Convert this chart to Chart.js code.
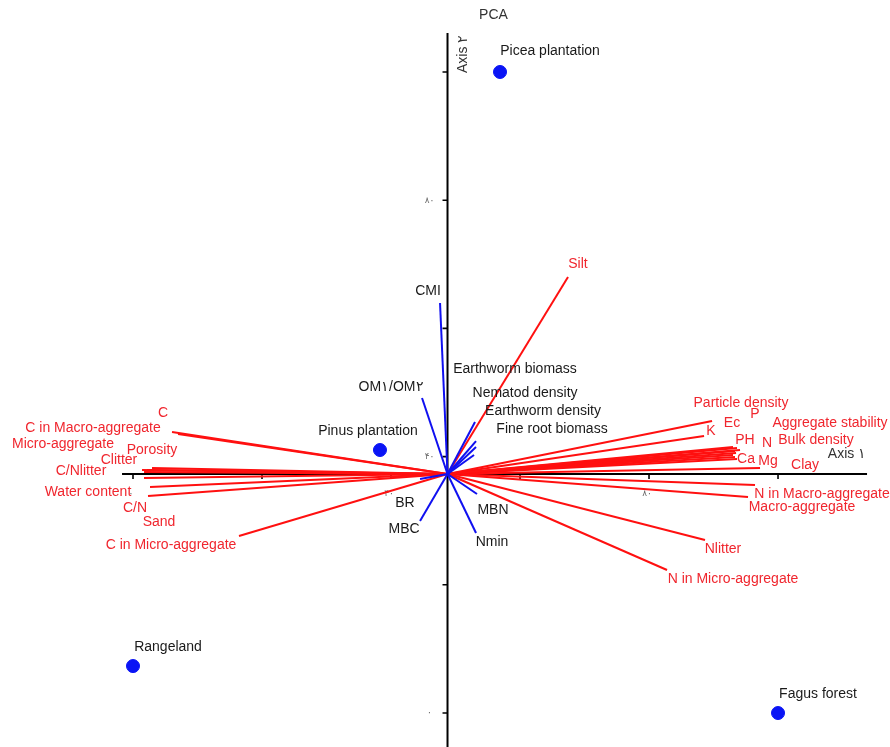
<!DOCTYPE html>
<html>
<head>
<meta charset="utf-8">
<script src="https://cdn.jsdelivr.net/npm/chart.js@4.4.1/dist/chart.umd.min.js"></script>
<style>
  html, body { margin: 0; padding: 0; background: #ffffff; }
  #wrap { width: 890px; height: 747px; }
  canvas { display: block; }
</style>
</head>
<body>
<div id="wrap"><canvas id="c" width="890" height="747"></canvas></div>
<script>
// ---- Data (PCA scores, 0-100 scale) ----
const origin = [48.76, 37.29];

// Environmental variables (red vectors)
const redNames = ["Silt", "C", "C in Macro-aggregate", "Micro-aggregate", "Porosity", "Clitter", "C/Nlitter",
  "Water content", "C/N", "Sand", "C in Micro-aggregate", "Particle density", "Ec", "P", "Aggregate stability",
  "K", "PH", "N", "Bulk density", "Ca", "Mg", "Clay", "N in Macro-aggregate", "Macro-aggregate", "Nlitter",
  "N in Micro-aggregate"];
const redX = [67.44, 6.05, 6.98, 2.95, 1.40, 2.17, 1.71, 1.71, 2.64, 2.33, 16.43, 89.77, 93.02, 93.64, 94.11,
  88.53, 93.33, 93.49, 93.02, 93.33, 93.64, 97.21, 96.43, 95.35, 88.68, 82.79];
const redY = [68.02, 43.84, 43.53, 38.22, 37.91, 37.91, 37.60, 36.66, 35.26, 33.85, 27.61, 45.55, 41.50, 41.34, 41.03,
  43.21, 40.87, 40.56, 40.25, 39.94, 39.63, 38.22, 35.57, 33.70, 26.99, 22.31];
const redLabelX = [68.99, 4.65, -6.20, -10.85, 2.95, -2.17, -8.06, -6.98, 0.31, 4.03, 5.89, 94.26, 92.87, 96.43, 108.06,
  89.61, 94.88, 98.29, 105.89, 95.04, 98.45, 104.19, 106.82, 103.72, 91.47, 93.02];
const redLabelY = [70.05, 46.80, 44.46, 41.97, 41.03, 39.47, 37.75, 34.48, 31.98, 29.80, 26.21, 48.36, 45.24, 46.65, 45.24,
  43.99, 42.59, 42.12, 42.59, 39.63, 39.31, 38.69, 34.17, 32.14, 25.59, 20.90];

// Biological variables (blue vectors)
const blueNames = ["CMI", "OM\u06F1/OM\u06F2", "Earthworm biomass", "Nematod density", "Earthworm density",
  "Fine root biomass", "BR", "MBC", "MBN", "Nmin"];
const blueX = [47.60, 44.81, 53.02, 53.18, 53.18, 52.87, 44.50, 44.50, 53.33, 53.18];
const blueY = [63.96, 49.14, 45.40, 42.43, 41.50, 40.25, 36.51, 29.95, 34.17, 28.08];
const blueLabelX = [45.74, 40.00, 59.22, 60.78, 63.57, 64.96, 42.17, 42.02, 55.81, 55.66];
const blueLabelY = [65.83, 50.86, 53.67, 49.92, 47.11, 44.31, 32.76, 28.71, 31.67, 26.68];

// Sites (blue points)
const siteNames = ["Picea plantation", "Pinus plantation", "Rangeland", "Fagus forest"];
const siteX = [56.90, 38.29, 0.00, 100.00];
const siteY = [100.00, 41.03, 7.33, 0.00];
const siteLabelX = [64.65, 36.43, 5.43, 106.20];
const siteLabelY = [103.28, 43.99, 10.30, 2.96];

// Axis ticks
const tickValues = [0, 20, 40, 60, 80, 100];
const tickLabelValues = [0, 40, 80];
const tickLabelTexts = ["\u06F0", "\u06F4\u06F0", "\u06F8\u06F0"];

const RED = "#ff1010";
const RED_TXT = "#f0262e";
const BLUE = "#1010f0";
const FONT = "'Liberation Sans', Arial, sans-serif";

// ---- Build datasets ----
const datasets = [];
redNames.forEach((n, i) => {
  datasets.push({
    type: "line", label: n,
    data: [{x: origin[0], y: origin[1]}, {x: redX[i], y: redY[i]}],
    borderColor: RED, borderWidth: 2, pointRadius: 0, fill: false, order: 3
  });
});
blueNames.forEach((n, i) => {
  datasets.push({
    type: "line", label: n,
    data: [{x: origin[0], y: origin[1]}, {x: blueX[i], y: blueY[i]}],
    borderColor: BLUE, borderWidth: 2, pointRadius: 0, fill: false, order: 2
  });
});
datasets.push({
  type: "scatter", label: "sites",
  data: siteX.map((x, i) => ({x: x, y: siteY[i]})),
  backgroundColor: "#0a14f5", borderColor: "#0a14f5", pointRadius: 6.5, order: 1
});

const axesPlugin = {
  id: "axesPlugin",
  beforeDatasetsDraw(chart) {
    const ctx = chart.ctx, xs = chart.scales.x, ys = chart.scales.y;
    const ox = xs.getPixelForValue(origin[0]), oy = ys.getPixelForValue(origin[1]);
    ctx.save();
    ctx.strokeStyle = "#000"; ctx.lineWidth = 2;
    ctx.beginPath();
    ctx.moveTo(xs.getPixelForValue(-1.7), oy); ctx.lineTo(xs.getPixelForValue(113.8), oy);
    ctx.moveTo(ox, ys.getPixelForValue(106.1)); ctx.lineTo(ox, ys.getPixelForValue(-6));
    ctx.stroke();
    ctx.lineWidth = 1.6;
    ctx.beginPath();
    tickValues.forEach(v => {
      const px = xs.getPixelForValue(v);
      ctx.moveTo(px, oy); ctx.lineTo(px, oy + 5);
      const py = ys.getPixelForValue(v);
      ctx.moveTo(ox, py); ctx.lineTo(ox - 5, py);
    });
    ctx.stroke();
    // tick labels
    ctx.fillStyle = "#666"; ctx.font = "9px 'DejaVu Sans', sans-serif";
    ctx.textAlign = "center"; ctx.textBaseline = "middle";
    tickLabelValues.forEach((v, i) => {
      ctx.fillText(tickLabelTexts[i], xs.getPixelForValue(v) - 2, oy + 20);
      ctx.fillText(tickLabelTexts[i], ox - 18, ys.getPixelForValue(v));
    });
    ctx.restore();
  },
  afterDatasetsDraw(chart) {
    const ctx = chart.ctx, xs = chart.scales.x, ys = chart.scales.y;
    const ox = xs.getPixelForValue(origin[0]), oy = ys.getPixelForValue(origin[1]);
    ctx.save();
    ctx.textAlign = "center"; ctx.textBaseline = "middle";
    ctx.font = "14px " + FONT;
    ctx.fillStyle = RED_TXT;
    redNames.forEach((n, i) => ctx.fillText(n, xs.getPixelForValue(redLabelX[i]), ys.getPixelForValue(redLabelY[i])));
    ctx.fillStyle = "#1a1a1a";
    blueNames.forEach((n, i) => ctx.fillText(n, xs.getPixelForValue(blueLabelX[i]), ys.getPixelForValue(blueLabelY[i])));
    siteNames.forEach((n, i) => ctx.fillText(n, xs.getPixelForValue(siteLabelX[i]), ys.getPixelForValue(siteLabelY[i])));
    // title
    ctx.fillStyle = "#333";
    ctx.font = "14px " + FONT;
    ctx.fillText("PCA", ox + 46, 15);
    // axis titles
    ctx.font = "14px " + FONT;
    ctx.fillText("Axis \u06F1", xs.getPixelForValue(113.8) - 20, oy - 20);
    ctx.save();
    ctx.translate(ox + 16, ys.getPixelForValue(106.1) + 21);
    ctx.rotate(-Math.PI / 2);
    ctx.fillText("Axis \u06F2", 0, 0);
    ctx.restore();
    ctx.restore();
  }
};

new Chart(document.getElementById("c"), {
  type: "scatter",
  data: { datasets: datasets },
  options: {
    responsive: false,
    animation: false,
    layout: { padding: 0, autoPadding: false },
    plugins: { legend: { display: false }, tooltip: { enabled: false } },
    scales: {
      x: { type: "linear", min: -20.62, max: 117.36, display: false },
      y: { type: "linear", min: -5.30, max: 111.23, display: false }
    }
  },
  plugins: [axesPlugin]
});
</script>
</body>
</html>
